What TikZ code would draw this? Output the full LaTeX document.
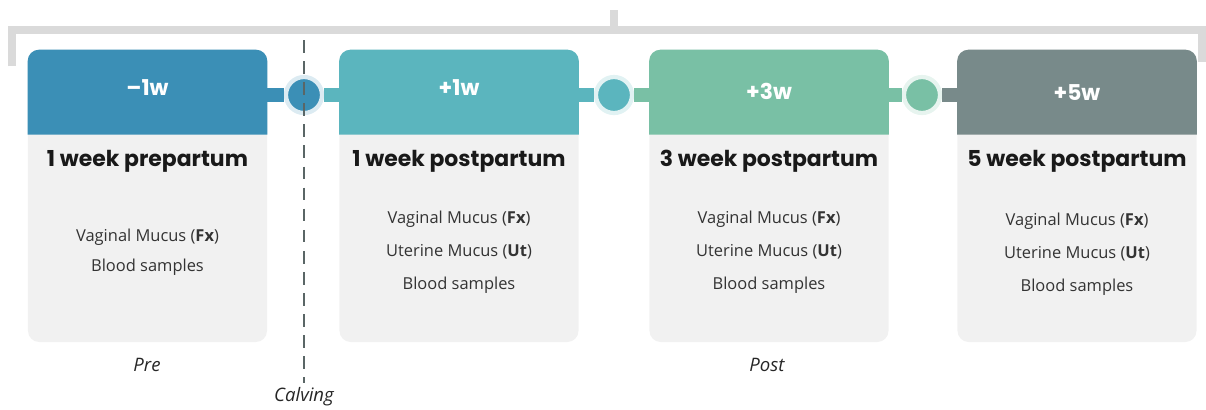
\documentclass[tikz,border=0pt]{standalone}
\usepackage{fontspec}
\setmainfont{Open Sans}
\newfontfamily\popfont{Poppins}
\usepackage{tikz}
\usetikzlibrary{positioning, calc}

\definecolor{hdA}{HTML}{3B8FB6}
\definecolor{hdB}{HTML}{5BB5BE}
\definecolor{hdC}{HTML}{79C0A5}
\definecolor{hdD}{HTML}{788A8A}
\definecolor{bodygray}{HTML}{F1F1F1}
\definecolor{brack}{HTML}{DADADA}
\definecolor{dashgray}{HTML}{5A6666}

\tikzset{
  card/.style={fill=bodygray, rounded corners=8pt, minimum width=5.975cm, minimum height=7.3cm, inner sep=0pt},
  tag/.style={text=white, font=\popfont\bfseries\fontsize{15.5}{17}\selectfont},
  ttl/.style={text=black!90, font=\popfont\bfseries\fontsize{15.6}{18}\selectfont},
  items/.style={text=black!80, align=center, font=\fontsize{11.7}{23.4}\selectfont},
  dot/.style={circle, minimum size=0.9cm, inner sep=0pt, line width=3pt},
  bar/.style={line width=0.35cm},
  lbl/.style={font=\itshape\fontsize{13.2}{15}\selectfont, text=black!85}
}

\begin{document}
\begin{tikzpicture}[x=0.025cm, y=-0.025cm]
\useasboundingbox (0,0) rectangle (1206,409);

% bracket on top
\draw[brack, line width=0.2cm] (12,66) -- (12,30) -- (1202,30) -- (1202,62);
\draw[brack, line width=0.2cm] (614,10) -- (614,30);

% cards
\node[card] (card1) at (147.5,196) {};
\node[card] (card2) at (459,196) {};
\node[card] (card3) at (769,196) {};
\node[card] (card4) at (1077,196) {};

\fill[hdA] (card1.north west) ++(0,85) [rounded corners=8pt] -- (card1.north west) -- (card1.north east) [sharp corners] -- ++(0,85) -- cycle;
\fill[hdB] (card2.north west) ++(0,85) [rounded corners=8pt] -- (card2.north west) -- (card2.north east) [sharp corners] -- ++(0,85) -- cycle;
\fill[hdC] (card3.north west) ++(0,85) [rounded corners=8pt] -- (card3.north west) -- (card3.north east) [sharp corners] -- ++(0,85) -- cycle;
\fill[hdD] (card4.north west) ++(0,85) [rounded corners=8pt] -- (card4.north west) -- (card4.north east) [sharp corners] -- ++(0,85) -- cycle;

\node[tag] (tag1) at (147.5,88) {–1w};
\node[tag] (tag2) at (459,88) {+1w};
\node[tag] (tag3) at (769,91) {+3w};
\node[tag] (tag4) at (1077,93) {+5w};

\node[ttl] (ttl1) at (147.5,161) {1 week prepartum};
\node[ttl] (ttl2) at (459,161) {1 week postpartum};
\node[ttl] (ttl3) at (769,161) {3 week postpartum};
\node[ttl] (ttl4) at (1077,161) {5 week postpartum};

\node[items, font=\fontsize{11.7}{21.3}\selectfont] (items1) at (147.5,252) {Vaginal Mucus (\textbf{Fx})\\Blood samples};
\node[items] (items2) at (459,252) {Vaginal Mucus (\textbf{Fx})\\Uterine Mucus (\textbf{Ut})\\Blood samples};
\node[items] (items3) at (769,252) {Vaginal Mucus (\textbf{Fx})\\Uterine Mucus (\textbf{Ut})\\Blood samples};
\node[items] (items4) at (1077,254) {Vaginal Mucus (\textbf{Fx})\\Uterine Mucus (\textbf{Ut})\\Blood samples};

% connectors
\node[dot, fill=hdA, draw=hdA!18] (dot1) at (304,95) {};
\node[dot, fill=hdB, draw=hdB!18] (dot2) at (614,95) {};
\node[dot, fill=hdC, draw=hdC!18] (dot3) at (922,95) {};

\draw[bar, hdA] (card1.east |- dot1) -- (dot1.west);
\draw[bar, hdB] (dot1.east) -- (card2.west |- dot1);
\draw[bar, hdB] (card2.east |- dot2) -- (dot2.west);
\draw[bar, hdC] (dot2.east) -- (card3.west |- dot2);
\draw[bar, hdC] (card3.east |- dot3) -- (dot3.west);
\draw[bar, hdD] (dot3.east) -- (card4.west |- dot3);

% calving line
\coordinate (calvtop) at (304,40);
\node[lbl] (calv) at (304,397) {Calving};
\draw[dashgray, line width=2pt, dash pattern=on 9pt off 6pt] (calvtop) -- (calv.north);

\node[lbl] (pre) at (147,365) {Pre};
\node[lbl] (post) at (767,365) {Post};

\end{tikzpicture}
\end{document}
